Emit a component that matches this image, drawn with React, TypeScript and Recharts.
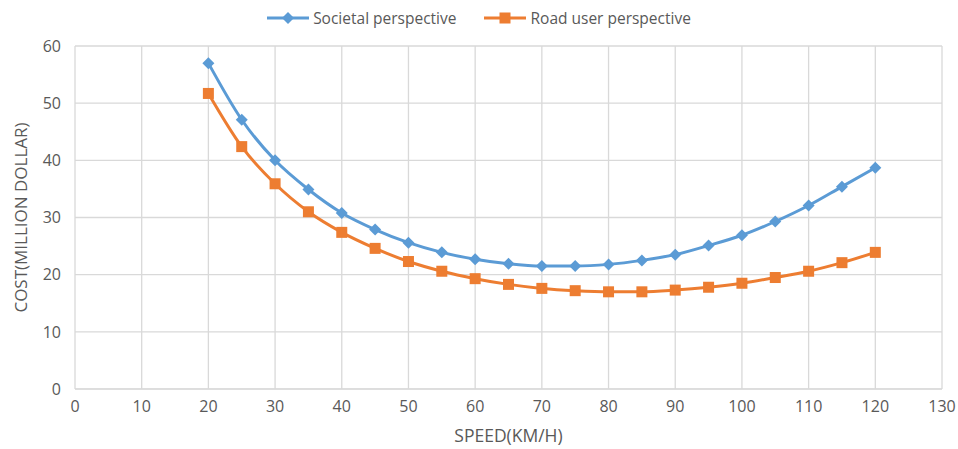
import {
  LineChart,
  Line,
  XAxis,
  YAxis,
  CartesianGrid,
} from 'recharts'

const speeds = [20, 25, 30, 35, 40, 45, 50, 55, 60, 65, 70, 75, 80, 85, 90, 95, 100, 105, 110, 115, 120]
const societal = [57, 47.1, 40, 34.9, 30.8, 27.9, 25.6, 23.9, 22.7, 21.9, 21.5, 21.5, 21.8, 22.5, 23.5, 25.1, 26.9, 29.3, 32.1, 35.4, 38.7]
const roadUser = [51.7, 42.4, 35.9, 31.0, 27.4, 24.6, 22.3, 20.6, 19.3, 18.3, 17.6, 17.2, 17.0, 17.0, 17.3, 17.8, 18.5, 19.5, 20.6, 22.1, 23.9]
const xTicks = [0, 10, 20, 30, 40, 50, 60, 70, 80, 90, 100, 110, 120, 130]
const yTicks = [0, 10, 20, 30, 40, 50, 60]

const data = speeds.map((s, i) => ({ speed: s, societal: societal[i], road: roadUser[i] }))

const BLUE = '#5B9BD5'
const ORANGE = '#ED7D31'
const FONT = "'Open Sans', sans-serif"

const Diamond = (props: any) => {
  const { cx, cy } = props
  if (cx == null || cy == null) return null
  const r = 6
  return (
    <path
      d={`M${cx},${cy - r}L${cx + r},${cy}L${cx},${cy + r}L${cx - r},${cy}Z`}
      fill={BLUE}
    />
  )
}

const Square = (props: any) => {
  const { cx, cy } = props
  if (cx == null || cy == null) return null
  const r = 5.5
  return <rect x={cx - r} y={cy - r} width={r * 2} height={r * 2} fill={ORANGE} />
}

const LegendBox = () => (
  <div
    style={{
      position: 'absolute',
      top: 8,
      left: 0,
      width: 958,
      display: 'flex',
      justifyContent: 'center',
      gap: 28,
      fontFamily: FONT,
      fontSize: 15.5,
      color: '#595959',
      lineHeight: '20px',
    }}
  >
    <span style={{ display: 'flex', alignItems: 'center' }}>
      <svg width={42} height={14} style={{ marginRight: 4 }}>
        <line x1={0} y1={7} x2={42} y2={7} stroke={BLUE} strokeWidth={3} />
        <path d="M21,1L27,7L21,13L15,7Z" fill={BLUE} />
      </svg>
      Societal perspective
    </span>
    <span style={{ display: 'flex', alignItems: 'center' }}>
      <svg width={42} height={14} style={{ marginRight: 4 }}>
        <line x1={0} y1={7} x2={42} y2={7} stroke={ORANGE} strokeWidth={3} />
        <rect x={15.5} y={1.5} width={11} height={11} fill={ORANGE} />
      </svg>
      Road user perspective
    </span>
  </div>
)

export default function App() {
  return (
    <div style={{ position: 'absolute', left: 0, top: 0, width: 958, height: 449, background: '#fff' }}>
      <LegendBox />
      <LineChart width={958} height={449} data={data} margin={{ top: 46, right: 16, bottom: 10, left: 15 }}>
        <CartesianGrid stroke="#d9d9d9" strokeWidth={1.3} />
        <XAxis
          dataKey="speed"
          type="number"
          domain={[0, 130]}
          ticks={xTicks}
          interval={0}
          tickLine={false}
          axisLine={{ stroke: '#d9d9d9' }}
          height={50}
          tick={{ fontSize: 16, fill: '#595959', fontFamily: FONT }}
          tickMargin={6}
          label={{ value: 'SPEED(KM/H)', position: 'insideBottom', offset: -3, fontSize: 17.5, fill: '#595959', fontFamily: FONT }}
        />
        <YAxis
          type="number"
          domain={[0, 60]}
          ticks={yTicks}
          interval={0}
          tickLine={false}
          axisLine={false}
          width={60}
          tick={{ fontSize: 16, fill: '#595959', fontFamily: FONT }}
          tickMargin={8}
          label={{ value: 'COST(MILLION DOLLAR)', angle: -90, position: 'insideLeft', offset: 0, dx: 6, fontSize: 17, fill: '#595959', fontFamily: FONT, style: { textAnchor: 'middle' } }}
        />
        <Line
          type="monotone"
          dataKey="societal"
          name="Societal perspective"
          stroke={BLUE}
          strokeWidth={3}
          dot={<Diamond />}
          activeDot={false}
          isAnimationActive={false}
        />
        <Line
          type="monotone"
          dataKey="road"
          name="Road user perspective"
          stroke={ORANGE}
          strokeWidth={3}
          dot={<Square />}
          activeDot={false}
          isAnimationActive={false}
        />
      </LineChart>
    </div>
  )
}
